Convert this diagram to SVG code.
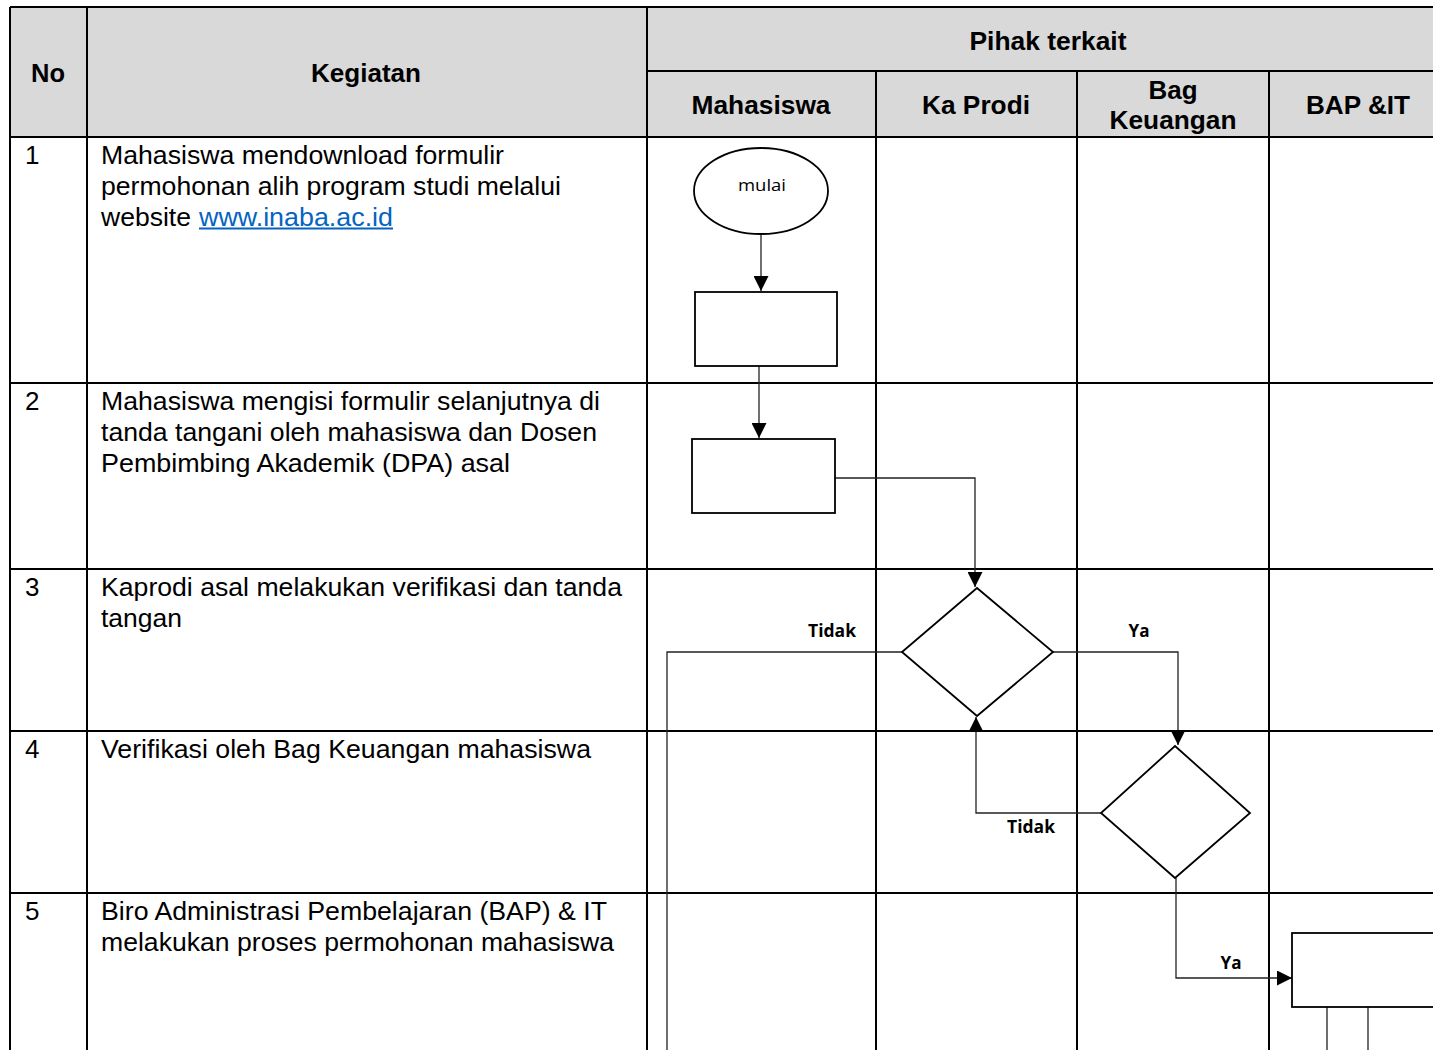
<svg xmlns="http://www.w3.org/2000/svg" width="1433" height="1050" viewBox="0 0 1433 1050">
<defs>
<style>
.grid{stroke:#000;stroke-width:2;fill:none}
.hd{font-family:"Liberation Sans",Arial,sans-serif;font-weight:bold;font-size:26px;fill:#000;text-anchor:middle}
.tx{font-family:"Liberation Sans",Arial,sans-serif;font-size:26px;fill:#000}
.lnk{fill:#0563c1}
.shape{fill:#fff;stroke:#000;stroke-width:1.8}
.conn{fill:none;stroke:#222;stroke-width:1.3}
.lbl{font-family:"Open Sans","DejaVu Sans",sans-serif;font-weight:bold;font-size:17px;fill:#000;text-anchor:middle}
.sm{font-family:"Open Sans","DejaVu Sans",sans-serif;font-size:17px;fill:#000;text-anchor:middle}
</style>
<marker id="arr" viewBox="0 0 10 10" refX="10" refY="5" markerWidth="16" markerHeight="15" markerUnits="userSpaceOnUse" orient="auto">
<path d="M0,0 L10,5 L0,10 z" fill="#000"/>
</marker>
</defs>
<rect width="1433" height="1050" fill="#fff"/>
<g id="table">
<rect x="10" y="7" width="1430" height="130" fill="#d9d9d9"/>
<path class="grid" d="M10,7H1433M647,71H1433M10,137H1433M10,383H1433M10,569H1433M10,731H1433M10,893H1433M10,7V1050M87,7V1050M647,7V1050M876,71V1050M1077,71V1050M1269,71V1050"/>
<text class="hd" x="48" y="82" textLength="34" lengthAdjust="spacingAndGlyphs">No</text>
<text class="hd" x="366" y="82" textLength="110" lengthAdjust="spacingAndGlyphs">Kegiatan</text>
<text class="hd" x="1048" y="50" textLength="157" lengthAdjust="spacingAndGlyphs">Pihak terkait</text>
<text class="hd" x="761" y="114" textLength="139" lengthAdjust="spacingAndGlyphs">Mahasiswa</text>
<text class="hd" x="976" y="114" textLength="108" lengthAdjust="spacingAndGlyphs">Ka Prodi</text>
<text class="hd" x="1173" y="99" textLength="49" lengthAdjust="spacingAndGlyphs">Bag</text>
<text class="hd" x="1173" y="129" textLength="127" lengthAdjust="spacingAndGlyphs">Keuangan</text>
<text class="hd" x="1358" y="114" textLength="104" lengthAdjust="spacingAndGlyphs">BAP &amp;IT</text>
</g>
<g id="rows">
<text class="tx" x="25" y="164">1</text>
<text class="tx" x="101" y="164" textLength="403" lengthAdjust="spacingAndGlyphs">Mahasiswa mendownload formulir</text>
<text class="tx" x="101" y="195" textLength="460" lengthAdjust="spacingAndGlyphs">permohonan alih program studi melalui</text>
<text class="tx" x="101" y="226" textLength="90" lengthAdjust="spacingAndGlyphs">website</text>
<text class="tx lnk" x="199" y="226" textLength="194" lengthAdjust="spacingAndGlyphs">www.inaba.ac.id</text>
<line x1="199" y1="228.5" x2="393" y2="228.5" stroke="#0563c1" stroke-width="1.8"/>
<text class="tx" x="25" y="410">2</text>
<text class="tx" x="101" y="410" textLength="499" lengthAdjust="spacingAndGlyphs">Mahasiswa mengisi formulir selanjutnya di</text>
<text class="tx" x="101" y="441" textLength="496" lengthAdjust="spacingAndGlyphs">tanda tangani oleh mahasiswa dan Dosen</text>
<text class="tx" x="101" y="472" textLength="409" lengthAdjust="spacingAndGlyphs">Pembimbing Akademik (DPA) asal</text>
<text class="tx" x="25" y="596">3</text>
<text class="tx" x="101" y="596" textLength="521" lengthAdjust="spacingAndGlyphs">Kaprodi asal melakukan verifikasi dan tanda</text>
<text class="tx" x="101" y="627" textLength="81" lengthAdjust="spacingAndGlyphs">tangan</text>
<text class="tx" x="25" y="758">4</text>
<text class="tx" x="101" y="758" textLength="490" lengthAdjust="spacingAndGlyphs">Verifikasi oleh Bag Keuangan mahasiswa</text>
<text class="tx" x="25" y="920">5</text>
<text class="tx" x="101" y="920" textLength="506" lengthAdjust="spacingAndGlyphs">Biro Administrasi Pembelajaran (BAP) &amp; IT</text>
<text class="tx" x="101" y="951" textLength="513" lengthAdjust="spacingAndGlyphs">melakukan proses permohonan mahasiswa</text>
</g>
<g id="connectors">
<path class="conn" d="M761,234V291" marker-end="url(#arr)"/>
<path class="conn" d="M759,366V438" marker-end="url(#arr)"/>
<path class="conn" d="M835,478H975V587" marker-end="url(#arr)"/>
<path class="conn" d="M902,652H667V1050"/>
<path class="conn" d="M1053,652H1178V745" marker-end="url(#arr)"/>
<path class="conn" d="M1101,813H976V717" marker-end="url(#arr)"/>
<path class="conn" d="M1176,878V978H1292" marker-end="url(#arr)"/>
<path class="conn" d="M1327,1007V1050M1368,1007V1050"/>
<text class="lbl" x="832" y="637" textLength="48" lengthAdjust="spacingAndGlyphs">Tidak</text>
<text class="lbl" x="1139" y="637" textLength="21" lengthAdjust="spacingAndGlyphs">Ya</text>
<text class="lbl" x="1031" y="833" textLength="48" lengthAdjust="spacingAndGlyphs">Tidak</text>
<text class="lbl" x="1231" y="969" textLength="21" lengthAdjust="spacingAndGlyphs">Ya</text>
</g>
<g id="n-mulai">
<ellipse class="shape" cx="761" cy="191" rx="67" ry="43"/>
<text class="sm" x="762" y="191" textLength="48" lengthAdjust="spacingAndGlyphs">mulai</text>
</g>
<g id="n-step1"><rect class="shape" x="695" y="292" width="142" height="74"/></g>
<g id="n-step2"><rect class="shape" x="692" y="439" width="143" height="74"/></g>
<g id="n-dec1"><path class="shape" d="M977,588L1053,652L977,716L902,652z"/></g>
<g id="n-dec2"><path class="shape" d="M1175,746L1250,813L1175,878L1101,813z"/></g>
<g id="n-step5"><rect class="shape" x="1292" y="933" width="150" height="74"/></g>
</svg>
